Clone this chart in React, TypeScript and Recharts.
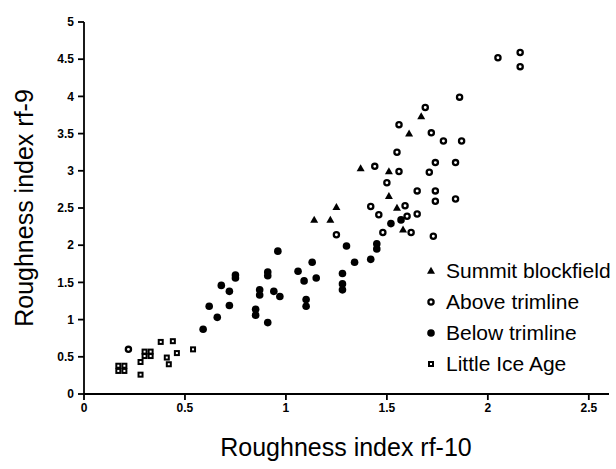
import { ScatterChart, Scatter, XAxis, YAxis } from 'recharts';

// [rf-10, rf-9] pairs
const summitBlockfield = [
  [1.67, 3.73], [1.61, 3.5], [1.37, 3.03], [1.51, 2.99], [1.51, 2.66],
  [1.25, 2.51], [1.14, 2.34], [1.22, 2.34], [1.55, 2.5], [1.58, 2.21],
];

const aboveTrimline = [
  [2.05, 4.52], [2.16, 4.59], [2.16, 4.4], [1.86, 3.99], [1.69, 3.85],
  [1.56, 3.62], [1.72, 3.51], [1.78, 3.4], [1.87, 3.4], [1.55, 3.25],
  [1.44, 3.06], [1.56, 2.99], [1.5, 2.84], [1.74, 3.11], [1.71, 2.98],
  [1.84, 3.11], [1.65, 2.73], [1.74, 2.73], [1.74, 2.59], [1.84, 2.62],
  [1.42, 2.52], [1.59, 2.53], [1.46, 2.41], [1.6, 2.39], [1.65, 2.42],
  [1.25, 2.14], [1.48, 2.17], [1.62, 2.17], [1.73, 2.12], [0.22, 0.6],
];

const belowTrimline = [
  [0.96, 1.92], [1.3, 1.99], [1.45, 2.02], [1.45, 1.95], [1.52, 2.29],
  [1.57, 2.34], [1.42, 1.81], [1.34, 1.77], [1.28, 1.62], [1.28, 1.48],
  [1.28, 1.4], [1.13, 1.77], [1.06, 1.65], [1.15, 1.56], [1.09, 1.52],
  [1.1, 1.27], [1.1, 1.18], [0.91, 1.64], [0.91, 1.59], [0.94, 1.38],
  [0.97, 1.31], [0.87, 1.4], [0.87, 1.33], [0.85, 1.14], [0.85, 1.06],
  [0.91, 0.96], [0.75, 1.6], [0.75, 1.56], [0.68, 1.46], [0.72, 1.38],
  [0.72, 1.19], [0.62, 1.18], [0.66, 1.03], [0.59, 0.87],
];

const littleIceAge = [
  [0.17, 0.38], [0.2, 0.38], [0.17, 0.31], [0.2, 0.31],
  [0.3, 0.57], [0.33, 0.57], [0.3, 0.51], [0.33, 0.51],
  [0.28, 0.43], [0.28, 0.26], [0.38, 0.7], [0.44, 0.71],
  [0.41, 0.49], [0.42, 0.4], [0.46, 0.55], [0.54, 0.6],
];

const seriesNames = ['Summit blockfield', 'Above trimline', 'Below trimline', 'Little Ice Age'];
const xTicks = [0, 0.5, 1, 1.5, 2, 2.5];
const yTicks = [0, 0.5, 1, 1.5, 2, 2.5, 3, 3.5, 4, 4.5, 5];

const font = 'Arial, Helvetica, sans-serif';

const toPoints = (rows: number[][]) => rows.map(([x, y]) => ({ x, y }));

const Triangle = ({ cx, cy }: any) => (
  <polygon points={`${cx},${cy - 4.2} ${cx + 4},${cy + 2.8} ${cx - 4},${cy + 2.8}`} fill="#000" />
);
const OpenCircle = ({ cx, cy }: any) => (
  <circle cx={cx} cy={cy} r={2.6} fill="#fff" stroke="#000" strokeWidth={2.3} />
);
const Dot = ({ cx, cy }: any) => <circle cx={cx} cy={cy} r={3.8} fill="#000" />;
const Square = ({ cx, cy }: any) => (
  <g>
    <rect x={cx - 3} y={cy - 3} width={6} height={6} fill="#000" />
    <rect x={cx - 1} y={cy - 1} width={2} height={2} fill="#fff" />
  </g>
);

const markers = [Triangle, OpenCircle, Dot, Square];
const axisLine = { stroke: '#000', strokeWidth: 1.8 };
const tickFont = { fill: '#000', fontSize: 12, fontWeight: 700 };

export default function App() {
  return (
    <div style={{ position: 'absolute', left: 0, top: 0, width: 616, height: 469, background: '#fff', fontFamily: font }}>
      <ScatterChart width={616} height={469} margin={{ top: 22, right: 7, bottom: 0, left: 0 }}>
        <XAxis
          type="number"
          dataKey="x"
          domain={[0, 2.6]}
          ticks={xTicks}
          height={75}
          stroke="#000"
          axisLine={axisLine}
          tickLine={axisLine}
          tickSize={6}
          tickMargin={3}
          tick={tickFont}
        />
        <YAxis
          type="number"
          dataKey="y"
          domain={[0, 5]}
          ticks={yTicks}
          width={84}
          stroke="#000"
          axisLine={axisLine}
          tickLine={axisLine}
          tickSize={6}
          tickMargin={4}
          tick={tickFont}
        />
        <Scatter name="Summit blockfield" data={toPoints(summitBlockfield)} shape={Triangle} isAnimationActive={false} />
        <Scatter name="Above trimline" data={toPoints(aboveTrimline)} shape={OpenCircle} isAnimationActive={false} />
        <Scatter name="Below trimline" data={toPoints(belowTrimline)} shape={Dot} isAnimationActive={false} />
        <Scatter name="Little Ice Age" data={toPoints(littleIceAge)} shape={Square} isAnimationActive={false} />
      </ScatterChart>
      <div style={{ position: 'absolute', left: 96, top: 432, width: 500, textAlign: 'center', fontSize: 25, lineHeight: '30px', color: '#000' }}>
        Roughness index rf-10
      </div>
      <div
        style={{
          position: 'absolute', left: -106, top: 193, width: 260, height: 30, textAlign: 'center',
          fontSize: 25, lineHeight: '30px', color: '#000', transform: 'rotate(-90deg)', whiteSpace: 'nowrap',
        }}
      >
        Roughness index rf-9
      </div>
      <div style={{ position: 'absolute', left: 423, top: 256, fontSize: 21, color: '#000' }}>
        {seriesNames.map((name, i) => {
          const Mark = markers[i];
          return (
            <div key={name} style={{ display: 'flex', alignItems: 'center', height: 30.8, whiteSpace: 'nowrap' }}>
              <svg width={16} height={16} style={{ marginRight: 7 }}>
                <Mark cx={8} cy={8} />
              </svg>
              <span>{name}</span>
            </div>
          );
        })}
      </div>
    </div>
  );
}
